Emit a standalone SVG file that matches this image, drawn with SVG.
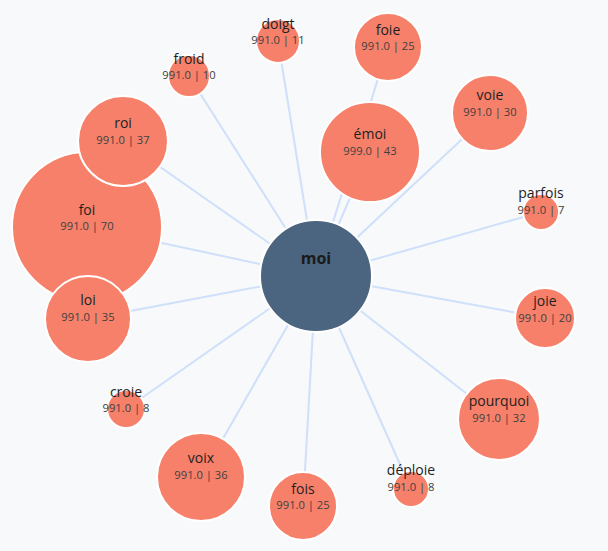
<svg xmlns="http://www.w3.org/2000/svg" width="608" height="551" viewBox="0 0 608 551">
<style>
.bg{fill:#f8f9fb}
.edge{stroke:#cfe0fa;stroke-width:2;fill:none}
.leaf{fill:#f6806a;stroke:#ffffff;stroke-width:2}
.hub{fill:#4b6580;stroke:#ffffff;stroke-width:2}
.name{font-family:"Open Sans","Noto Sans",sans-serif;font-size:14px;fill:#1f1f1f;text-anchor:middle}
.val{font-family:"Open Sans","Noto Sans",sans-serif;font-size:11.2px;fill:#404040;text-anchor:middle}
.hubname{font-family:"Open Sans","Noto Sans",sans-serif;font-size:16px;font-weight:bold;fill:#1a1a1a;text-anchor:middle}
</style>
<rect class="bg" x="0" y="0" width="608" height="551"/>
<g id="connectors">
<line class="edge" x1="316" y1="276" x2="87" y2="227"/>
<line class="edge" x1="316" y1="276" x2="123" y2="141"/>
<line class="edge" x1="316" y1="276" x2="88" y2="319"/>
<line class="edge" x1="316" y1="276" x2="189" y2="76"/>
<line class="edge" x1="316" y1="276" x2="278" y2="41"/>
<line class="edge" x1="316" y1="276" x2="388" y2="47"/>
<line class="edge" x1="316" y1="276" x2="370" y2="152"/>
<line class="edge" x1="316" y1="276" x2="490" y2="113"/>
<line class="edge" x1="316" y1="276" x2="541" y2="212"/>
<line class="edge" x1="316" y1="276" x2="545" y2="318"/>
<line class="edge" x1="316" y1="276" x2="499" y2="419"/>
<line class="edge" x1="316" y1="276" x2="411" y2="489"/>
<line class="edge" x1="316" y1="276" x2="303" y2="506"/>
<line class="edge" x1="316" y1="276" x2="201" y2="477"/>
<line class="edge" x1="316" y1="276" x2="126" y2="409"/>
</g>
<g id="node-foi"><circle class="leaf" cx="87" cy="227" r="75"/><text class="name" x="87" y="215">foi</text><text class="val" x="87" y="230">991.0 | 70</text></g>
<g id="node-roi"><circle class="leaf" cx="123" cy="141" r="45"/><text class="name" x="123" y="128">roi</text><text class="val" x="123" y="144">991.0 | 37</text></g>
<g id="node-loi"><circle class="leaf" cx="88" cy="319" r="43"/><text class="name" x="88" y="305">loi</text><text class="val" x="88" y="321">991.0 | 35</text></g>
<g id="node-froid"><circle class="leaf" cx="189" cy="76" r="21"/><text class="name" x="189" y="64">froid</text><text class="val" x="189" y="79">991.0 | 10</text></g>
<g id="node-doigt"><circle class="leaf" cx="278" cy="41" r="22"/><text class="name" x="278" y="29">doigt</text><text class="val" x="278" y="44">991.0 | 11</text></g>
<g id="node-foie"><circle class="leaf" cx="388" cy="47" r="34"/><text class="name" x="388" y="35">foie</text><text class="val" x="388" y="50">991.0 | 25</text></g>
<g id="node-emoi"><circle class="leaf" cx="370" cy="152" r="50"/><text class="name" x="370" y="139">émoi</text><text class="val" x="370" y="155">999.0 | 43</text></g>
<g id="node-voie"><circle class="leaf" cx="490" cy="113" r="38"/><text class="name" x="490" y="100">voie</text><text class="val" x="490" y="116">991.0 | 30</text></g>
<g id="node-parfois"><circle class="leaf" cx="541" cy="212" r="18"/><text class="name" x="541" y="198">parfois</text><text class="val" x="541" y="214">991.0 | 7</text></g>
<g id="node-joie"><circle class="leaf" cx="545" cy="318" r="30"/><text class="name" x="545" y="306">joie</text><text class="val" x="545" y="322">991.0 | 20</text></g>
<g id="node-pourquoi"><circle class="leaf" cx="499" cy="419" r="41"/><text class="name" x="499" y="406">pourquoi</text><text class="val" x="499" y="422">991.0 | 32</text></g>
<g id="node-deploie"><circle class="leaf" cx="411" cy="489" r="18"/><text class="name" x="411" y="475">déploie</text><text class="val" x="411" y="491">991.0 | 8</text></g>
<g id="node-fois"><circle class="leaf" cx="303" cy="506" r="34"/><text class="name" x="303" y="494">fois</text><text class="val" x="303" y="509">991.0 | 25</text></g>
<g id="node-voix"><circle class="leaf" cx="201" cy="477" r="44"/><text class="name" x="201" y="463">voix</text><text class="val" x="201" y="479">991.0 | 36</text></g>
<g id="node-croie"><circle class="leaf" cx="126" cy="409" r="19"/><text class="name" x="126" y="397">croie</text><text class="val" x="126" y="412">991.0 | 8</text></g>
<g id="node-moi"><circle class="hub" cx="316" cy="276" r="56"/><text class="hubname" x="316" y="264">moi</text></g>
</svg>
